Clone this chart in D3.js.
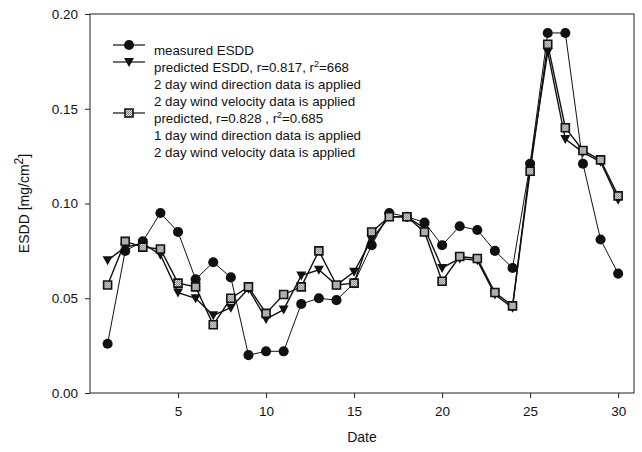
<!DOCTYPE html>
<html>
<head>
<meta charset="utf-8">
<script src="https://cdn.jsdelivr.net/npm/d3@7"></script>
<style>
  body { margin: 0; background: #fff; }
  svg text { font-family: "Liberation Sans", Arial, sans-serif; fill: #111; }
</style>
</head>
<body>
<svg id="chart"></svg>
<script>
// data
const days = d3.range(1, 31);
const measured = [0.026, 0.075, 0.080, 0.095, 0.085, 0.060, 0.069, 0.061, 0.020, 0.022,
  0.022, 0.047, 0.050, 0.049, 0.058, 0.078, 0.095, 0.093, 0.090, 0.078,
  0.088, 0.086, 0.075, 0.066, 0.121, 0.190, 0.190, 0.121, 0.081, 0.063];
const predicted2day = [0.070, 0.077, 0.079, 0.073, 0.053, 0.050, 0.041, 0.045, 0.055, 0.039,
  0.044, 0.062, 0.065, 0.057, 0.064, 0.081, 0.093, 0.093, 0.087, 0.066,
  0.071, 0.070, 0.052, 0.045, 0.120, 0.180, 0.134, 0.127, 0.122, 0.102];
const predicted1day = [0.057, 0.080, 0.077, 0.076, 0.058, 0.056, 0.036, 0.050, 0.056, 0.042,
  0.052, 0.056, 0.075, 0.057, 0.058, 0.085, 0.093, 0.093, 0.085, 0.059,
  0.072, 0.071, 0.053, 0.046, 0.117, 0.184, 0.140, 0.128, 0.123, 0.104];
const xTicks = [5, 10, 15, 20, 25, 30];
const yTicks = [0.00, 0.05, 0.10, 0.15, 0.20];

// Config
const width = 642;
const height = 452;
const plot = { left: 90, right: 634, top: 14, bottom: 393 };

const svg = d3.select("#chart")
  .attr("width", width)
  .attr("height", height);

const x = d3.scaleLinear().domain([0, 30.9]).range([plot.left, plot.right]);
const y = d3.scaleLinear().domain([0, 0.20]).range([plot.bottom, plot.top]);

// hatched fill for squares
const pat = svg.append("defs").append("pattern")
  .attr("id", "hatch")
  .attr("width", 2).attr("height", 2)
  .attr("patternUnits", "userSpaceOnUse");
pat.append("rect").attr("width", 2).attr("height", 2).attr("fill", "#e8e8e8");
pat.append("rect").attr("width", 1).attr("height", 1).attr("fill", "#777");
pat.append("rect").attr("x", 1).attr("y", 1).attr("width", 1).attr("height", 1).attr("fill", "#777");

// frame
svg.append("rect")
  .attr("x", plot.left).attr("y", plot.top)
  .attr("width", plot.right - plot.left)
  .attr("height", plot.bottom - plot.top)
  .attr("fill", "none")
  .attr("stroke", "#222")
  .attr("stroke-width", 1);

// axes
const xAxis = svg.append("g")
  .attr("transform", `translate(0,${plot.bottom})`)
  .call(d3.axisBottom(x).tickValues(xTicks).tickSize(5).tickPadding(8).tickFormat(d3.format("d")));
const yAxis = svg.append("g")
  .attr("transform", `translate(${plot.left},0)`)
  .call(d3.axisLeft(y).tickValues(yTicks).tickSize(5).tickPadding(7).tickFormat(d3.format(".2f")));
[xAxis, yAxis].forEach(g => {
  g.select(".domain").remove();
  g.selectAll("line").attr("stroke", "#222");
  g.selectAll("text").attr("font-size", 13.5).attr("fill", "#111")
    .style("font-family", '"Liberation Sans", Arial, sans-serif');
});

// axis titles
svg.append("text")
  .attr("x", (plot.left + plot.right) / 2)
  .attr("y", 442)
  .attr("text-anchor", "middle")
  .attr("font-size", 14)
  .text("Date");

const yl = svg.append("text")
  .attr("transform", `translate(29,${(plot.top + plot.bottom) / 2}) rotate(-90)`)
  .attr("text-anchor", "middle")
  .attr("font-size", 14);
yl.append("tspan").text("ESDD [mg/cm");
yl.append("tspan").attr("dy", -6).attr("font-size", 12).text("2");
yl.append("tspan").attr("dy", 6).text("]");

// markers
const circleSym = d3.symbol().type(d3.symbolCircle).size(80);
const squareSym = d3.symbol().type(d3.symbolSquare).size(64);
function triangleDown(g) {
  g.append("path").attr("d", "M-5,-4L5,-4L0,5Z").attr("fill", "#111");
}

function drawSeries(values, lineWidth, marker) {
  const pts = days.map((d, i) => [d, values[i]]);
  svg.append("path")
    .datum(pts)
    .attr("fill", "none")
    .attr("stroke", "#111")
    .attr("stroke-width", lineWidth)
    .attr("d", d3.line().x(d => x(d[0])).y(d => y(d[1])));
  const g = svg.append("g");
  pts.forEach(p => {
    const m = g.append("g").attr("transform", `translate(${x(p[0])},${y(p[1])})`);
    marker(m);
  });
}

const drawCircle = g => g.append("path").attr("d", circleSym()).attr("fill", "#111");
const drawSquare = g => g.append("path").attr("d", squareSym())
  .attr("fill", "url(#hatch)").attr("stroke", "#111").attr("stroke-width", 1.6);

drawSeries(measured, 1, drawCircle);
drawSeries(predicted2day, 1.4, triangleDown);
drawSeries(predicted1day, 1.4, drawSquare);

// legend
const legend = svg.append("g");
const rows = [
  { y: 45, marker: drawCircle, parts: [["measured ESDD"]] },
  { y: 62, marker: triangleDown, parts: [["predicted ESDD, r=0.817, r"], ["2", true], ["=668"]] },
  { y: 79, parts: [["2 day wind direction data is applied"]] },
  { y: 96, parts: [["2 day wind velocity data is applied"]] },
  { y: 113, marker: drawSquare, parts: [["predicted, r=0.828 , r"], ["2", true], ["=0.685"]] },
  { y: 130, parts: [["1 day wind direction data is applied"]] },
  { y: 147, parts: [["2 day wind velocity data is applied"]] }
];
rows.forEach(r => {
  if (r.marker) {
    legend.append("line")
      .attr("x1", 113).attr("x2", 145)
      .attr("y1", r.y).attr("y2", r.y)
      .attr("stroke", "#111").attr("stroke-width", 1.2);
    r.marker(legend.append("g").attr("transform", `translate(129,${r.y})`));
  }
  const t = legend.append("text")
    .attr("x", 154).attr("y", r.y + 4.5)
    .attr("font-size", 13.3);
  r.parts.forEach(([s, sup]) => {
    if (sup) t.append("tspan").attr("dy", -5).attr("font-size", 9).text(s);
    else t.append("tspan").attr("dy", t.selectAll("tspan").size() > 0 ? 5 : 0).text(s);
  });
});
</script>
</body>
</html>
